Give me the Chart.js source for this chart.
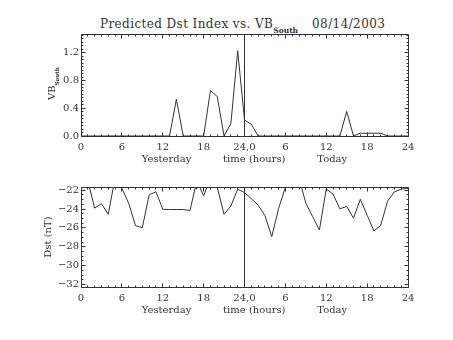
<!DOCTYPE html>
<html lang="en">
<head>
<meta charset="utf-8">
<title>Predicted Dst Index vs. VB South</title>
<script src="https://cdn.jsdelivr.net/npm/chart.js@4.4.1/dist/chart.umd.min.js"></script>
<style>
  body { margin: 0; background: #fff; }
  #pagina { position: relative; width: 453px; height: 340px; overflow: hidden; font-family: 'DejaVu Serif', serif; }
  #titulo { position: absolute; left: 100px; top: 17px; font-size: 12px; line-height: 14px; letter-spacing: 0.4px; white-space: pre; color: #333; }
  #titulo .sub { font-size: 7.5px; font-weight: bold; position: relative; top: 5px; letter-spacing: 0; }
  #titulo .data { margin-left: 14px; }
  .painel { position: absolute; left: 0; width: 453px; height: 170px; }
  #painelVB { top: 0; }
  #painelDst { top: 170px; }
</style>
</head>
<body>
<div id="pagina">
  <div id="titulo">Predicted Dst Index vs. VB<span class="sub">South</span><span class="data">08/14/2003</span></div>
  <div class="painel" id="painelVB"><canvas id="graficoVB" width="453" height="170"></canvas></div>
  <div class="painel" id="painelDst"><canvas id="graficoDst" width="453" height="170"></canvas></div>
</div>
<script>
// Horas: 0-24 = ontem, 24-48 = hoje
const horas = [0, 1, 2, 3, 4, 5, 6, 7, 8, 9, 10, 11, 12, 13, 14, 15, 16, 17, 18, 19, 20, 21, 22, 23, 24,
               25, 26, 27, 28, 29, 30, 31, 32, 33, 34, 35, 36, 37, 38, 39, 40, 41, 42, 43, 44, 45, 46, 47, 48];
const rotulosX = ['0', '6', '12', '18', '24,0', '6', '12', '18', '24'];

// VB south (painel de cima)
const vbSul = [0, 0, 0, 0, 0, 0, 0, 0, 0, 0, 0, 0, 0, 0, 0.53, 0, 0, 0, 0, 0.655, 0.57, 0, 0.18, 1.23, 0.23,
               0.17, 0, 0, 0, 0, 0, 0, 0, 0, 0, 0, 0, 0, 0, 0.355, 0, 0.04, 0.04, 0.04, 0.04, 0, 0, 0, 0];

// Dst previsto em nT (painel de baixo) - valores acima de -21.66 saem do grafico
const dst = [-21.3, -21.0, -23.9, -23.43, -24.56, -20.7, -21.8, -23.39, -25.76, -25.98,
             -22.5, -22.16, -24.03, -24.05, -24.05, -24.05, -24.15, -21.0, -22.6, -20.7,
             -21.7, -24.56, -23.67, -21.9, -22.25, -22.9, -23.58, -24.7, -26.93, -23.95,
             -21.7, -20.6, -20.7, -23.38, -24.8, -26.22, -21.86, -22.42, -23.98, -23.72,
             -24.96, -22.96, -24.65, -26.32, -25.73, -23.15, -22.18, -21.88, -21.82];

const corLinha = '#333';
const fonte = "'DejaVu Serif', serif";

// Moldura no estilo IDL: caixa fechada, ticks para dentro, linha vertical em 24h
const molduraIDL = {
    id: 'molduraIDL',
    afterDatasetsDraw(chart, args, opts) {
        const { ctx, chartArea: a, scales: { x, y } } = chart;
        const L = Math.floor(a.left) + 0.5, R = Math.floor(a.right) + 0.5;
        const T = Math.floor(a.top) + 0.5, B = Math.floor(a.bottom) + 0.5;
        ctx.save();
        ctx.strokeStyle = corLinha;
        ctx.lineWidth = 1;
        ctx.beginPath();
        ctx.rect(L, T, R - L, B - T);

        // ticks do eixo x (1 em 1 hora, maiores a cada 6)
        for (let h = x.min; h <= x.max; h += opts.passoX) {
            const px = Math.floor(x.getPixelForValue(h)) + 0.5;
            const t = (h % opts.maiorX === 0) ? 4 : 2;
            ctx.moveTo(px, B); ctx.lineTo(px, B - t);
            ctx.moveTo(px, T); ctx.lineTo(px, T + t);
        }

        // ticks do eixo y
        const maiores = y.ticks.map(t => t.value);
        const k0 = Math.ceil(y.min / opts.passoY - 1e-6), k1 = Math.floor(y.max / opts.passoY + 1e-6);
        for (let k = k0; k <= k1; k++) {
            const v = k * opts.passoY;
            const py = Math.floor(y.getPixelForValue(v)) + 0.5;
            const t = maiores.some(m => Math.abs(m - v) < 1e-6) ? 4 : 2;
            ctx.moveTo(L, py); ctx.lineTo(L + t, py);
            ctx.moveTo(R, py); ctx.lineTo(R - t, py);
        }

        // linha vertical separando ontem e hoje
        const pl = Math.floor(x.getPixelForValue(opts.linhaX)) + 0.5;
        ctx.moveTo(pl, T); ctx.lineTo(pl, B);
        ctx.stroke();

        // titulo do eixo y com subscrito
        if (opts.tituloY) {
            const cy = (a.top + a.bottom) / 2;
            ctx.translate(55, cy + 15);
            ctx.rotate(-Math.PI / 2);
            ctx.fillStyle = corLinha;
            ctx.textBaseline = 'alphabetic';
            ctx.font = '10px ' + fonte;
            ctx.fillText(opts.tituloY, 0, 0);
            const w = ctx.measureText(opts.tituloY).width;
            ctx.font = 'bold 5.5px ' + fonte;
            ctx.fillText(opts.subY, w, 4);
        }
        ctx.restore();
    }
};

function eixoX() {
    return {
        type: 'linear',
        min: 0,
        max: 48,
        grid: { display: false, drawTicks: false },
        border: { display: false },
        ticks: {
            stepSize: 6,
            padding: 5,
            maxRotation: 0,
            autoSkip: false,
            color: corLinha,
            font: { family: fonte, size: 10 },
            callback: (v) => rotulosX[v / 6]
        },
        title: {
            display: true,
            text: 'Yesterday          time (hours)          Today',
            color: corLinha,
            font: { family: fonte, size: 10 },
            padding: { top: 0, bottom: 5 }
        },
        afterFit: (s) => { s.height = 34; }
    };
}

const ctxVB = document.getElementById('graficoVB').getContext('2d');
let graficoVB = new Chart(ctxVB, {
    type: 'line',
    data: {
        datasets: [{
            data: horas.map((h, i) => ({ x: h, y: vbSul[i] })),
            borderColor: corLinha,
            borderWidth: 1,
            pointRadius: 0,
            tension: 0
        }]
    },
    options: {
        responsive: false,
        animation: false,
        devicePixelRatio: 1,
        layout: { padding: { top: 34, right: 45, left: 0, bottom: 0 } },
        scales: {
            x: eixoX(),
            y: {
                min: 0,
                max: 1.472,
                grid: { display: false, drawTicks: false },
                border: { display: false },
                ticks: {
                    stepSize: 0.2,
                    includeBounds: false,
                    padding: 2,
                    color: corLinha,
                    font: { family: fonte, size: 10 },
                    callback: (v) => v.toFixed(1)
                },
                afterFit: (s) => { s.width = 81; }
            }
        },
        plugins: {
            legend: { display: false },
            tooltip: { enabled: false },
            molduraIDL: { passoX: 1, maiorX: 6, passoY: 0.05, linhaX: 24, tituloY: 'VB', subY: 'South' }
        }
    },
    plugins: [molduraIDL]
});

const ctxDst = document.getElementById('graficoDst').getContext('2d');
let graficoDst = new Chart(ctxDst, {
    type: 'line',
    data: {
        datasets: [{
            data: horas.map((h, i) => ({ x: h, y: dst[i] })),
            borderColor: corLinha,
            borderWidth: 1,
            pointRadius: 0,
            tension: 0
        }]
    },
    options: {
        responsive: false,
        animation: false,
        devicePixelRatio: 1,
        layout: { padding: { top: 17, right: 45, left: 0, bottom: 19 } },
        scales: {
            x: eixoX(),
            y: {
                min: -32.27,
                max: -21.66,
                grid: { display: false, drawTicks: false },
                border: { display: false },
                ticks: {
                    stepSize: 2,
                    includeBounds: false,
                    padding: 2,
                    color: corLinha,
                    font: { family: fonte, size: 10 },
                    callback: (v) => String(v).replace('-', '\u2212')
                },
                title: {
                    display: true,
                    text: 'Dst (nT)',
                    color: corLinha,
                    font: { family: fonte, size: 10 },
                    padding: { top: 42, bottom: 0 }
                },
                afterFit: (s) => { s.width = 81; }
            }
        },
        plugins: {
            legend: { display: false },
            tooltip: { enabled: false },
            molduraIDL: { passoX: 1, maiorX: 6, passoY: 0.5, linhaX: 24 }
        }
    },
    plugins: [molduraIDL]
});
</script>
</body>
</html>
